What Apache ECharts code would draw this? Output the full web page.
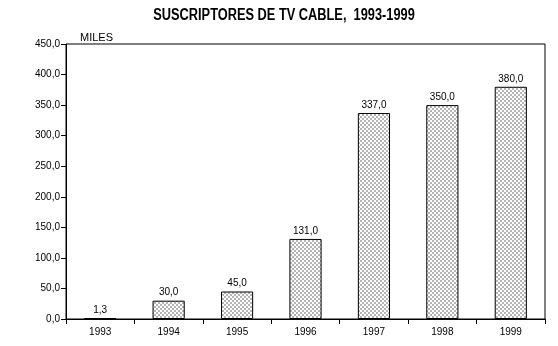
<!DOCTYPE html>
<html><head><meta charset="utf-8">
<script src="https://cdn.jsdelivr.net/npm/echarts@6/dist/echarts.min.js"></script>
<style>html,body{margin:0;padding:0;background:#fff}#c{width:558px;height:346px}</style>
</head><body><div id="c"></div>
<script>
var categories = ['1993','1994','1995','1996','1997','1998','1999'];
var values = [1.3, 30.0, 45.0, 131.0, 337.0, 350.0, 380.0];
var yTicks = [0, 50, 100, 150, 200, 250, 300, 350, 400, 450];
var titleText = 'SUSCRIPTORES DE TV CABLE,  1993-1999';
var unitText = 'MILES';

function fmt(v){ return v.toFixed(1).replace('.', ','); }

var pat = document.createElement('canvas');
pat.width = 4; pat.height = 4;
var pc = pat.getContext('2d');
pc.fillStyle = '#ffffff'; pc.fillRect(0,0,4,4);
pc.fillStyle = '#b4b4b4'; pc.fillRect(0,0,2,2); pc.fillRect(2,2,2,2);

var chart = echarts.init(document.getElementById('c'), null, {renderer:'canvas'});
var font = 'Liberation Sans, Arial, sans-serif';
chart.setOption({
  animation:false,
  backgroundColor:'#fff',
  graphic:[
    {type:'text', x:284, y:16, scaleX:0.8, scaleY:1,
      style:{text:titleText, font:'bold 16px Liberation Sans, Arial, sans-serif', fill:'#000', textAlign:'center', textVerticalAlign:'middle'}},
    {type:'text', left:80, top:32, style:{text:unitText, font:'11px Liberation Sans, Arial, sans-serif', fill:'#000'}}
  ],
  grid:{left:66, right:13, top:44, bottom:27, show:true, borderColor:'#000', borderWidth:1, backgroundColor:'transparent'},
  xAxis:{type:'category', data:categories,
    axisLine:{lineStyle:{color:'#000', width:1}},
    axisTick:{show:true, inside:false, length:5, lineStyle:{color:'#000'}},
    axisLabel:{color:'#000', fontFamily:font, fontSize:10, margin:8},
    splitLine:{show:false}},
  yAxis:{type:'value', min:0, max:450, interval:50,
    axisLine:{show:true, lineStyle:{color:'#000', width:1}},
    axisTick:{show:true, inside:false, length:5, lineStyle:{color:'#000'}},
    axisLabel:{color:'#000', fontFamily:font, fontSize:10, margin:6, formatter:function(v){return fmt(v);}},
    splitLine:{show:false}},
  series:[{type:'bar', data:values, barWidth:'47%',
    itemStyle:{color:{image:pat, repeat:'repeat'}, borderColor:'#000', borderWidth:1},
    label:{show:true, position:'top', distance:3, color:'#000', fontFamily:font, fontSize:10, formatter:function(p){return fmt(p.value);}}}]
});
</script></body></html>
